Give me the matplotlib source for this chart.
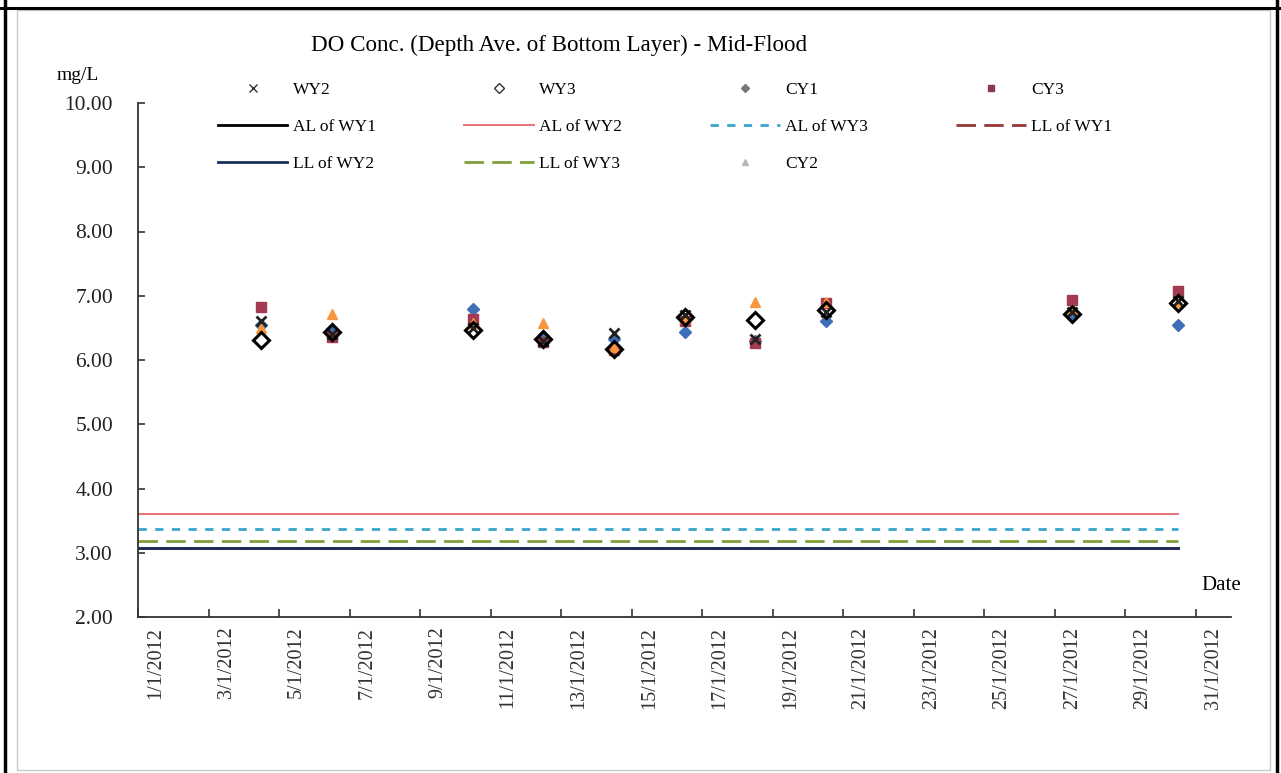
import matplotlib.pyplot as plt
from matplotlib.lines import Line2D
import numpy as np

plt.rcParams['font.family'] = ['Liberation Serif', 'DejaVu Serif']

# sampling days (January 2012)
days = [4, 6, 10, 12, 14, 16, 18, 20, 27, 30]

wy2 = [6.60, 6.40, 6.50, 6.30, 6.42, 6.70, 6.32, 6.75, 6.75, 6.92]
wy3 = [6.31, 6.43, 6.46, 6.33, 6.17, 6.67, 6.62, 6.78, 6.72, 6.88]
cy1 = [6.55, 6.48, 6.80, 6.38, 6.32, 6.43, 6.30, 6.60, 6.70, 6.55]
cy2 = [6.50, 6.72, 6.58, 6.58, 6.20, 6.65, 6.91, 6.90, 6.80, 6.90]
cy3 = [6.82, 6.36, 6.64, 6.28, 6.15, 6.60, 6.27, 6.88, 6.93, 7.07]

# action / limit levels
al_wy1 = 3.08
al_wy2 = 3.60
al_wy3 = 3.37
ll_wy1 = 3.08
ll_wy2 = 3.08
ll_wy3 = 3.19
level_span = [0.5, 30]

label_days = [1, 3, 5, 7, 9, 11, 13, 15, 17, 19, 21, 23, 25, 27, 29, 31]
tick_labels = ['1/1/2012', '3/1/2012', '5/1/2012', '7/1/2012', '9/1/2012',
               '11/1/2012', '13/1/2012', '15/1/2012', '17/1/2012', '19/1/2012',
               '21/1/2012', '23/1/2012', '25/1/2012', '27/1/2012', '29/1/2012',
               '31/1/2012']

fig = plt.figure(figsize=(12.81, 7.73), dpi=100)
ax = fig.add_axes([138 / 1281, 1 - 617 / 773, (1231 - 138) / 1281, (617 - 103) / 773])

# frame around the chart
fig.add_artist(plt.Rectangle((17 / 1281, 0.004), (1270 - 17) / 1281, 1 - 10 / 773 - 0.004,
                             transform=fig.transFigure, fill=False, ec='#c8c8c8', lw=1))
fig.add_artist(Line2D([0, 1], [1 - 7.5 / 773] * 2, transform=fig.transFigure, color='black', lw=2.2))
fig.add_artist(Line2D([5 / 1281] * 2, [0, 1], transform=fig.transFigure, color='black', lw=2.5))
fig.add_artist(Line2D([1277 / 1281] * 2, [0, 1], transform=fig.transFigure, color='black', lw=2.5))

lw = 2
h_al1, = ax.plot(level_span, [al_wy1] * 2, color='black', lw=lw)
h_al2, = ax.plot(level_span, [al_wy2] * 2, color='#e8707a', lw=1.4)
h_al3, = ax.plot(level_span, [al_wy3] * 2, color='#3aa6cc', lw=lw, ls=(0, (3, 3)))
h_ll1, = ax.plot(level_span, [ll_wy1] * 2, color='#953735', lw=lw, ls=(0, (7, 3)))
h_ll2, = ax.plot(level_span, [ll_wy2] * 2, color='#1c2f5e', lw=lw)
h_ll3, = ax.plot(level_span, [ll_wy3] * 2, color='#7f9f3a', lw=lw, ls=(0, (7, 3)))

ax.plot(days, cy1, ls='none', marker='D', ms=6, color='#3f6fb8')
ax.plot(days, cy3, ls='none', marker='s', ms=7, color='#a33a50')
ax.plot(days, cy2, ls='none', marker='^', ms=7, color='#f7963c')
ax.plot(days, wy2, ls='none', marker='x', ms=7, mew=2, color='#222222')
ax.plot(days, wy3, ls='none', marker='D', ms=8.5, mew=2.2, mfc='none', mec='black')

# legend handles as they appear in the key
h_wy2 = Line2D([], [], ls='none', marker='x', ms=6, mew=1, color='#333333')
h_wy3 = Line2D([], [], ls='none', marker='D', ms=5, mew=1, mfc='white', mec='#333333')
h_cy1 = Line2D([], [], ls='none', marker='D', ms=4, color='#777777')
h_cy3 = Line2D([], [], ls='none', marker='s', ms=5, color='#8a3a4a')
h_cy2 = Line2D([], [], ls='none', marker='^', ms=5, color='#b8b8b8')

handles = [h_wy2, h_al1, h_ll2, h_wy3, h_al2, h_ll3, h_cy1, h_al3, h_cy2, h_cy3, h_ll1]
labels = ['WY2', 'AL of WY1', 'LL of WY2', 'WY3', 'AL of WY2', 'LL of WY3',
          'CY1', 'AL of WY3', 'CY2', 'CY3', 'LL of WY1']
fig.legend(handles, labels, ncol=4, loc='upper left', bbox_to_anchor=(218 / 1281, 1 - 82 / 773),
           frameon=False, fontsize=12.5, handlelength=4, handletextpad=0.3,
           columnspacing=5.1, labelspacing=1.2, borderpad=0, borderaxespad=0)

ax.set_xlim(0.5, 31.5)
ax.set_ylim(2, 10)
ax.set_yticks(np.arange(2, 11, 1))
ax.set_yticklabels([f'{v:.2f}' for v in np.arange(2, 11, 1)], fontsize=15.5, color='#222222')
ax.set_xticks(np.arange(0.5, 31, 2))
ax.set_xticklabels([])
ax.set_xticks(label_days, minor=True)
ax.set_xticklabels(tick_labels, minor=True, rotation=90, fontsize=14.5, color='#333333')
ax.tick_params(axis='x', which='major', direction='in', length=6, width=1.2, color='#333333')
ax.tick_params(axis='x', which='minor', length=0, pad=7)
ax.tick_params(axis='y', direction='in', length=5, width=1.2, color='#333333', pad=18)

for s in ['top', 'right']:
    ax.spines[s].set_visible(False)
for s in ['left', 'bottom']:
    ax.spines[s].set_linewidth(1.3)
    ax.spines[s].set_color('#333333')

fig.text(559 / 1281, 1 - 45 / 773, 'DO Conc. (Depth Ave. of Bottom Layer) - Mid-Flood',
         ha='center', va='center', fontsize=16.6)
fig.text(78 / 1281, 1 - 75 / 773, 'mg/L', ha='center', va='center', fontsize=14)
fig.text(1221 / 1281, 1 - 585 / 773, 'Date', ha='center', va='center', fontsize=15)

fig.savefig('out.png', dpi=100)
